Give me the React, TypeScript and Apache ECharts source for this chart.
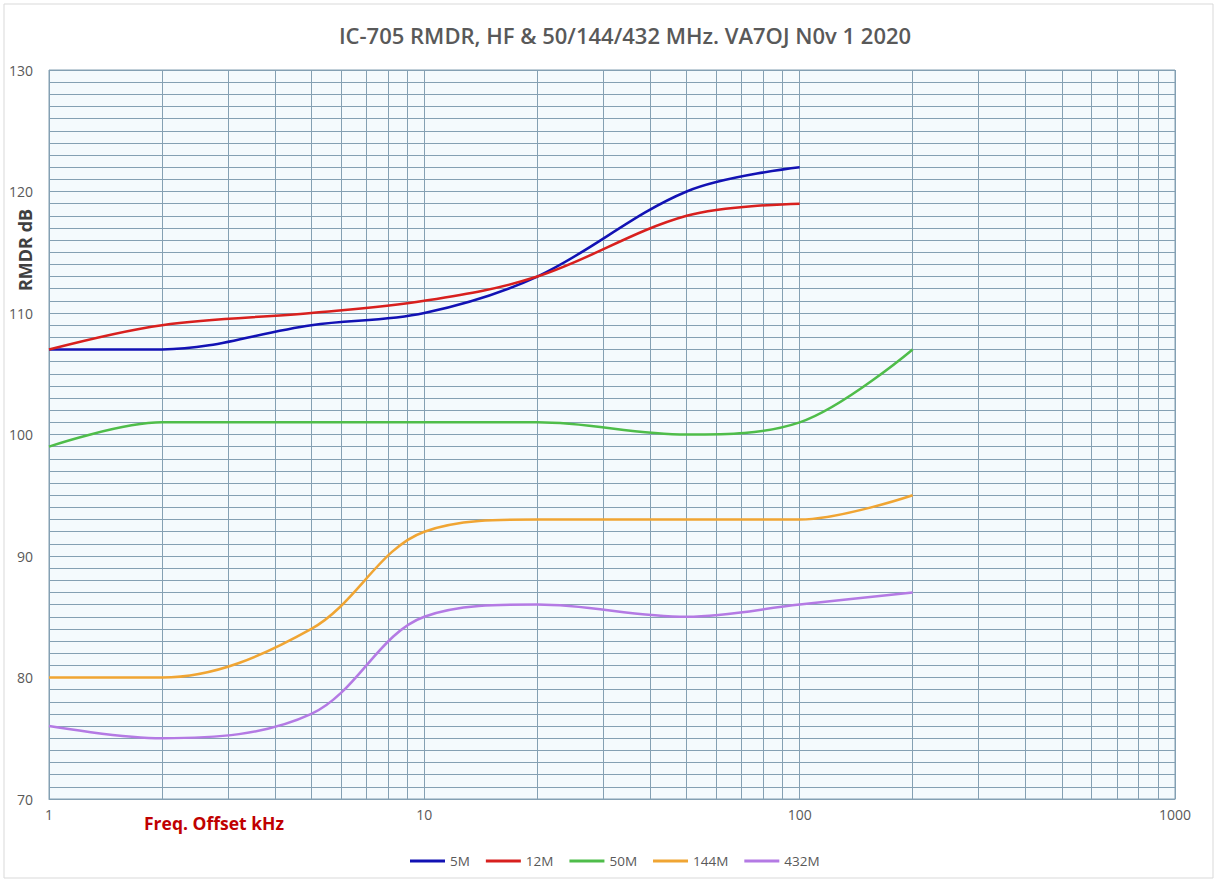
import React, { useEffect, useRef } from "react";
import * as echarts from "echarts";

const TITLE = "IC-705 RMDR, HF & 50/144/432 MHz. VA7OJ N0v 1 2020";
const seriesNames = ["5M", "12M", "50M", "144M", "432M"];
const seriesColors = ["#1212b4", "#d8201e", "#4fbd4a", "#f0a533", "#b47ae4"];

const data5M: [number, number][] = [[1, 107], [2, 107], [5, 109], [10, 110], [20, 113], [50, 120], [100, 122]];
const data12M: [number, number][] = [[1, 107], [2, 109], [5, 110], [10, 111], [20, 113], [50, 118], [100, 119]];
const data50M: [number, number][] = [[1, 99], [2, 101], [5, 101], [10, 101], [20, 101], [50, 100], [100, 101], [200, 107]];
const data144M: [number, number][] = [[1, 80], [2, 80], [5, 84], [10, 92], [20, 93], [50, 93], [100, 93], [200, 95]];
const data432M: [number, number][] = [[1, 76], [2, 75], [5, 77], [10, 85], [20, 86], [50, 85], [100, 86], [200, 87]];

const allData = [data5M, data12M, data50M, data144M, data432M];

// minor log gridlines (2..9, 20..90, 200..900)
const minorX: number[] = [2, 3, 4, 5, 6, 7, 8, 9, 20, 30, 40, 50, 60, 70, 80, 90, 200, 300, 400, 500, 600, 700, 800, 900];

const GRID_COLOR = "#84a0b3";
const FONT = "'Open Sans', 'Liberation Sans', sans-serif";

export default function App() {
  const ref = useRef<HTMLDivElement>(null);
  useEffect(() => {
    if (!ref.current) return;
    const chart = echarts.init(ref.current, undefined, { renderer: "svg" });
    const series: any[] = allData.map((d, i) => ({
      name: seriesNames[i],
      type: "line",
      data: d,
      smooth: 0.35,
      showSymbol: false,
      symbol: "none",
      lineStyle: { width: 2.5, color: seriesColors[i] },
      itemStyle: { color: seriesColors[i] },
      z: 5,
    }));
    series.push({
      name: "_grid",
      type: "line",
      data: [],
      silent: true,
      z: 1,
      markLine: {
        silent: true,
        symbol: ["none", "none"],
        label: { show: false },
        lineStyle: { color: GRID_COLOR, width: 1, type: "solid" },
        data: minorX.map((v) => ({ xAxis: v })),
        animation: false,
      },
    });
    chart.setOption({
      animation: false,
      textStyle: { fontFamily: FONT },
      title: {
        text: TITLE,
        left: 620,
        textAlign: "center",
        top: 19,
        textStyle: { fontFamily: FONT, fontSize: 22, fontWeight: 600, color: "#595959" },
      },
      legend: {
        data: seriesNames,
        left: 405,
        top: 849,
        icon: "rect",
        itemWidth: 35,
        itemHeight: 3,
        itemGap: 16,
        textStyle: { fontFamily: FONT, fontSize: 13.5, color: "#595959" },
      },
      grid: {
        left: 49,
        right: 42,
        top: 70,
        bottom: 82,
        show: true,
        backgroundColor: "#f4fafd",
        borderColor: GRID_COLOR,
        borderWidth: 1,
      },
      xAxis: {
        type: "log",
        logBase: 10,
        min: 1,
        max: 1000,
        axisLine: { show: true, lineStyle: { color: GRID_COLOR } },
        axisTick: { show: false },
        axisLabel: {
          color: "#595959",
          fontSize: 14,
          margin: 8,
          fontFamily: FONT,
          formatter: (v: number) => String(Math.round(v)),
        },
        splitLine: { show: true, lineStyle: { color: GRID_COLOR, width: 1 } },
      },
      yAxis: {
        type: "value",
        min: 70,
        max: 130,
        interval: 10,
        axisLine: { show: false },
        axisTick: { show: false },
        axisLabel: { color: "#595959", fontSize: 14, margin: 16, fontFamily: FONT },
        splitLine: { show: true, lineStyle: { color: GRID_COLOR, width: 1 } },
        minorTick: { show: false, splitNumber: 10 },
        minorSplitLine: { show: true, lineStyle: { color: GRID_COLOR, width: 1 } },
      },
      graphic: [
        {
          type: "rect",
          shape: { x: 4, y: 4, width: 1209, height: 874 },
          style: { fill: "none", stroke: "#d9d9d9", lineWidth: 1 },
          silent: true,
          z: -10,
        },
        {
          type: "text",
          x: 25,
          y: 250,
          rotation: Math.PI / 2,
          style: {
            text: "RMDR dB",
            fontFamily: FONT,
            fontSize: 18,
            fontWeight: "bold",
            fill: "#404040",
            align: "center",
            verticalAlign: "middle",
          },
        },
        {
          type: "text",
          x: 144,
          y: 823,
          style: {
            text: "Freq. Offset kHz",
            fontFamily: FONT,
            fontSize: 17.5,
            fontWeight: "bold",
            fill: "#c00000",
            align: "left",
            verticalAlign: "middle",
          },
        },
      ],
      series,
    });
    return () => chart.dispose();
  }, []);
  return (
    <div
      ref={ref}
      style={{ position: "fixed", left: 0, top: 0, width: 1217, height: 881, background: "#ffffff" }}
    />
  );
}
